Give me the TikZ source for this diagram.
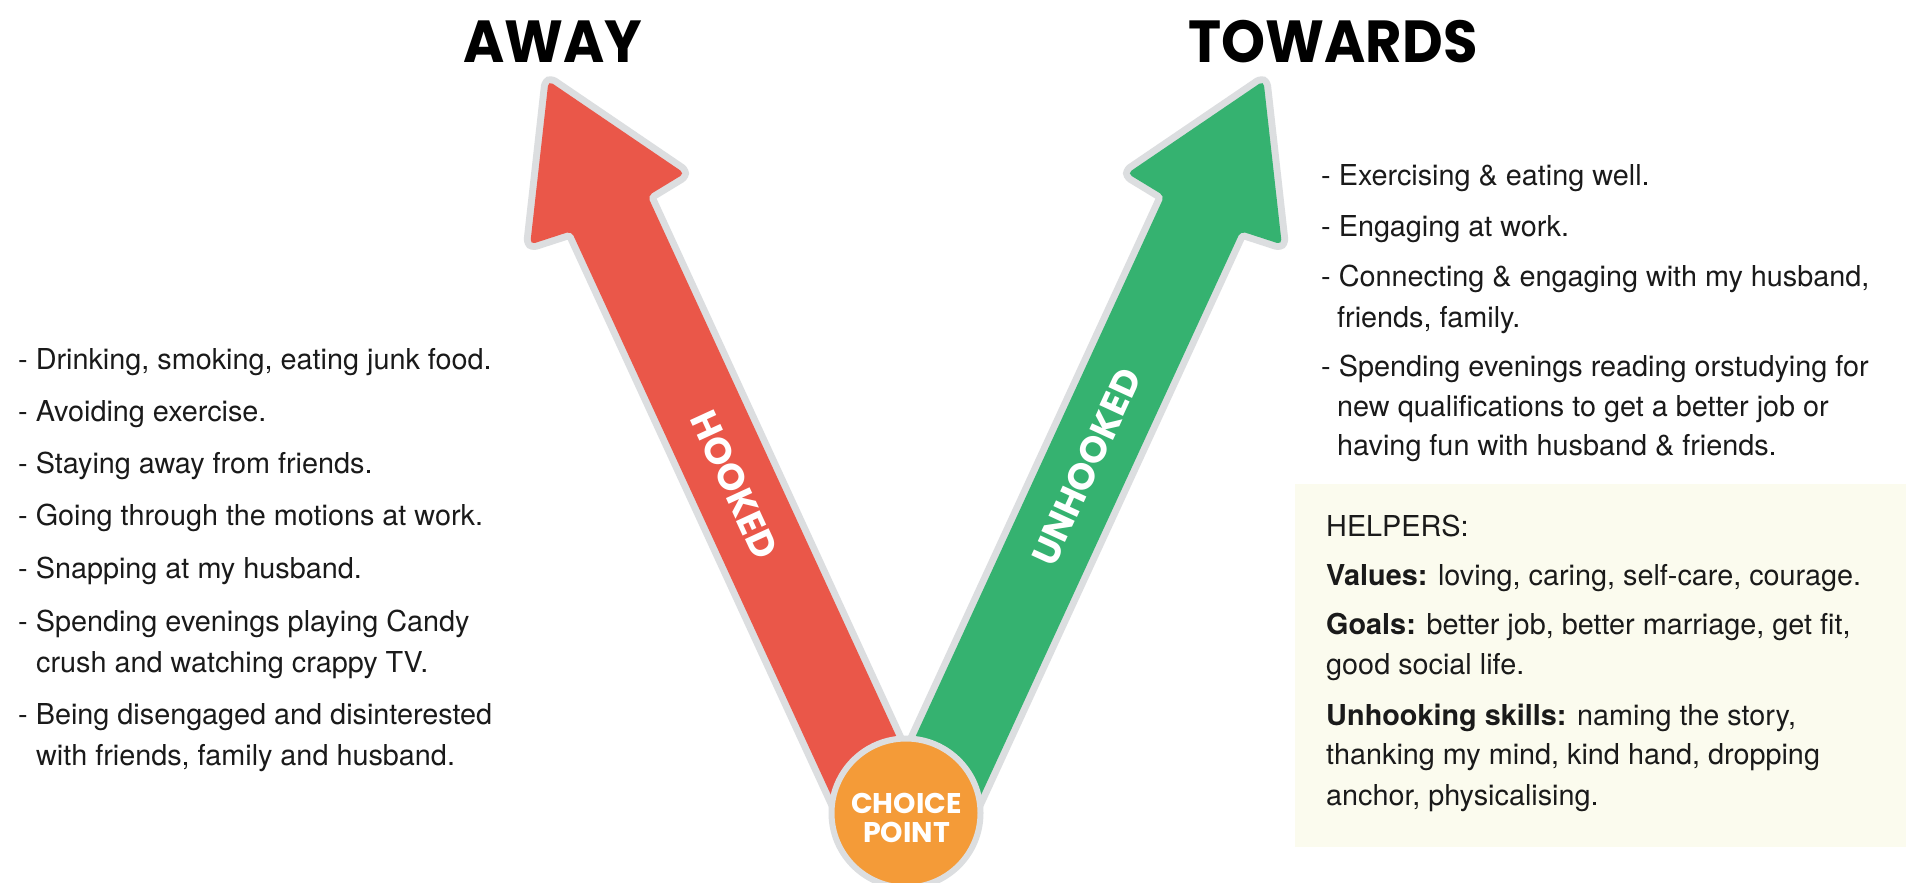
\documentclass[tikz,border=0pt]{standalone}
\usepackage{fontspec}
\setmainfont{TeX Gyre Heros}
\newfontfamily\titlefont{Poppins}
\definecolor{hookred}{HTML}{EA5749}
\definecolor{unhookgreen}{HTML}{35B270}
\definecolor{cporange}{HTML}{F49B38}
\definecolor{edgegray}{HTML}{DCDEE0}
\definecolor{helperbg}{HTML}{FBFBEE}
\definecolor{textblack}{HTML}{1A1A1A}
\tikzset{
  outline/.style={draw=edgegray, fill=edgegray, line width=14pt, line join=round, rounded corners=5pt},
  body/.style={rounded corners=5pt},
  item/.style={anchor=base west, inner sep=0pt, text=textblack, font=\fontsize{28.8}{40}\selectfont},
  title/.style={anchor=base, inner sep=0pt, text=black, font=\titlefont\bfseries\fontsize{56}{60}\selectfont},
  armlabel/.style={inner sep=0pt, text=white, font=\titlefont\bfseries\fontsize{37}{40}\selectfont},
}
\begin{document}
\begin{tikzpicture}[x=1pt,y=-1pt]
\useasboundingbox (0,0) rectangle (1906,883);
\fill[white] (0,0) rectangle (1906,883);
\fill[helperbg] (1295,484) rectangle (1906,847);

% titles
\node[title, yscale=1.06] (away) at (553,63) {AWAY};
\node[title, yscale=1.06] (towards) at (1333,63) {TOWARDS};

% red (hooked) arrow
\coordinate (rT) at (548.5,80.9);
\coordinate (rRB) at (684.6,173.4);
\coordinate (rRN) at (647.6,195.9);
\coordinate (rRE) at (930.3,810);
\coordinate (rLE) at (837.9,810);
\coordinate (rLN) at (571.4,231.1);
\coordinate (rLB) at (530.2,244.5);
\path[outline] (rT) -- (rRB) -- (rRN) -- (rRE) -- (rLE) -- (rLN) -- (rLB) -- cycle;
\fill[hookred, body] (rT) -- (rRB) -- (rRN) -- (rRE) -- (rLE) -- (rLN) -- (rLB) -- cycle;

% green (unhooked) arrow
\coordinate (gT) at (1263.5,80.9);
\coordinate (gLB) at (1127.4,173.4);
\coordinate (gLN) at (1164.4,195.9);
\coordinate (gLE) at (881.7,810);
\coordinate (gRE) at (974.1,810);
\coordinate (gRN) at (1240.6,231.1);
\coordinate (gRB) at (1281.8,244.5);
\path[outline] (gT) -- (gLB) -- (gLN) -- (gLE) -- (gRE) -- (gRN) -- (gRB) -- cycle;
\fill[unhookgreen, body] (gT) -- (gLB) -- (gLN) -- (gLE) -- (gRE) -- (gRN) -- (gRB) -- cycle;

\node[armlabel, rotate=-65.3] (hooked) at (734.4,485) {HOOKED};
\node[armlabel, rotate=65.3] (unhooked) at (1086.4,467) {UNHOOKED};

% choice point
\node[circle, draw=edgegray, line width=6pt, fill=cporange, minimum size=149pt, inner sep=0pt] (cp) at (906,813) {};
\node[inner sep=0pt, text=white, align=center, font=\titlefont\bfseries\fontsize{28.5}{29}\selectfont] (cptext) at (906.5,817.5) {CHOICE\\POINT};

% away list
\node[item] (a1) at (18,369) {- Drinking, smoking, eating junk food.};
\node[item] (a2) at (18,421) {- Avoiding exercise.};
\node[item] (a3) at (18,473) {- Staying away from friends.};
\node[item] (a4) at (18,525.5) {- Going through the motions at work.};
\node[item] (a5) at (18,578) {- Snapping at my husband.};
\node[item] (a6) at (18,631) {- Spending evenings playing Candy};
\node[item] (a6b) at (36,672) {crush and watching crappy TV.};
\node[item] (a7) at (18,724) {- Being disengaged and disinterested};
\node[item] (a7b) at (36,765) {with friends, family and husband.};

% towards list
\node[item] (t1) at (1321,185) {- Exercising \& eating well.};
\node[item] (t2) at (1321,236) {- Engaging at work.};
\node[item] (t3) at (1321,286) {- Connecting \& engaging with my husband,};
\node[item] (t3b) at (1337,327.5) {friends, family.};
\node[item] (t4) at (1321,376) {- Spending evenings reading orstudying for};
\node[item] (t4b) at (1337,416) {new qualifications to get a better job or};
\node[item] (t4c) at (1337,455) {having fun with husband \& friends.};

% helpers
\node[item] (h0) at (1326,536) {HELPERS:};
\node[item] (h1) at (1326,585) {\textbf{Values:} loving, caring, self-care, courage.};
\node[item] (h2) at (1326,634) {\textbf{Goals:} better job, better marriage, get fit,};
\node[item] (h2b) at (1326,674) {good social life.};
\node[item] (h3) at (1326,725) {\textbf{Unhooking skills:} naming the story,};
\node[item] (h3b) at (1326,764) {thanking my mind, kind hand, dropping};
\node[item] (h3c) at (1326,805) {anchor, physicalising.};
\end{tikzpicture}
\end{document}
